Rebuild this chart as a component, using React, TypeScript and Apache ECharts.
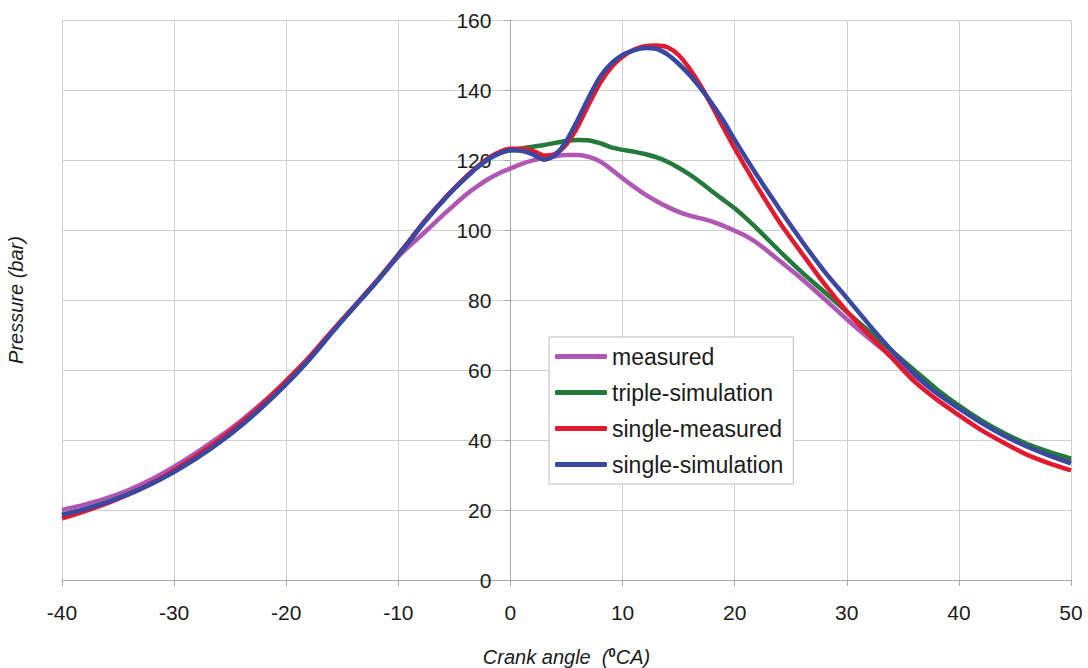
import React, { useEffect, useRef } from "react";
import * as echarts from "echarts";

const angles = [
  -40, -38, -36, -34, -32, -30, -28, -26, -24, -22, -20, -18, -16, -14, -12, -10,
  -9, -8, -7, -6, -5, -4, -3, -2, -1, 0, 1, 2, 3, 4, 5, 6, 7, 8, 9, 10, 11, 12, 13, 14, 15, 16, 17, 18, 19, 20, 21, 22,
  24, 26, 28, 30, 32, 34, 36, 38, 40, 42, 44, 46, 48, 50,
];

const measured = [
  20.0, 21.5, 23.4, 25.8, 28.8, 32.4, 36.4, 40.8, 45.6, 51.0, 57.0, 63.5, 70.8, 77.8, 85.0, 92.4,
  95.5, 98.3, 101.3, 104.3, 107.2, 110.0, 112.4, 114.5, 116.2, 117.6, 118.9, 119.9, 120.6, 121.1, 121.4, 121.4,
  120.9, 119.6, 117.3, 114.8, 112.4, 110.2, 108.3, 106.6, 105.2, 104.1, 103.3, 102.4, 101.2, 99.8, 98.3, 96.3,
  91.2, 86.0, 80.3, 74.5, 69.0, 63.8, 58.4, 53.5, 49.3, 45.3, 41.8, 38.7, 36.2, 34.0,
];

const tripleSimulation = [
  18.6, 20.2, 22.2, 24.6, 27.5, 30.9, 34.8, 39.2, 44.2, 49.8, 56.0, 62.8, 70.4, 77.8, 85.0, 92.8,
  96.8, 101.0, 104.8, 108.4, 111.8, 114.9, 117.8, 120.2, 121.9, 122.8, 123.3, 123.8, 124.3, 124.9, 125.4, 125.7,
  125.6, 124.8, 123.6, 122.9, 122.4, 121.7, 120.8, 119.5, 117.8, 115.8, 113.5, 111.0, 108.6, 106.2, 103.4, 100.4,
  94.0, 87.9, 82.3, 76.6, 71.0, 65.5, 60.0, 54.6, 49.8, 45.6, 42.0, 39.0, 36.7, 34.7,
];

const singleMeasured = [
  17.6, 19.6, 21.9, 24.6, 27.7, 31.4, 35.5, 40.0, 45.0, 50.6, 56.8, 63.4, 70.8, 78.0, 85.2, 93.0,
  97.0, 101.2, 105.0, 108.6, 112.0, 115.1, 118.0, 120.5, 122.3, 123.2, 123.2, 122.6, 121.3, 121.8, 124.5, 129.5,
  136.0, 142.0, 146.5, 149.5, 151.5, 152.5, 152.7, 152.2, 150.0, 146.0, 141.0, 135.3, 129.2, 123.3, 117.8, 112.4,
  102.2, 93.3, 84.6, 76.8, 70.0, 63.5, 56.8, 51.6, 47.1, 42.8, 39.2, 35.9, 33.4, 31.3,
];

const singleSimulation = [
  18.6, 20.2, 22.2, 24.6, 27.5, 30.9, 34.8, 39.2, 44.2, 49.8, 56.0, 62.8, 70.4, 77.8, 85.0, 92.8,
  96.8, 101.0, 104.8, 108.4, 111.8, 114.9, 117.8, 120.2, 121.9, 122.8, 122.6, 121.6, 120.1, 121.4, 125.5, 131.5,
  138.0, 143.8, 147.6, 150.0, 151.3, 152.0, 151.8, 150.2, 147.5, 144.2, 140.3, 136.0, 131.2, 125.8, 120.6, 115.6,
  106.0, 96.8, 88.2, 80.6, 72.9, 65.6, 59.0, 53.4, 49.0, 44.9, 41.3, 38.2, 35.6, 33.3,
];

const seriesNames = ["measured", "triple-simulation", "single-measured", "single-simulation"];
const seriesValues = [measured, tripleSimulation, singleMeasured, singleSimulation];
const seriesColors = ["#b056b4", "#237a3b", "#e21a30", "#3a48a2"];

const FONT = "'Liberation Sans', Arial, Helvetica, sans-serif";

const GRID_LEFT = 62;
const GRID_RIGHT = 17;
const CHART_W = 1088;

export default function App() {
  const ref = useRef<HTMLDivElement>(null);

  useEffect(() => {
    if (!ref.current) return;
    const chart = echarts.init(ref.current, null, { renderer: "svg" });
    // y axis sits at crank angle 0: shift it inward from the grid's left edge
    const plotW = CHART_W - GRID_LEFT - GRID_RIGHT;
    const yAxisShift = (plotW * (0 - -40)) / (50 - -40);
    chart.setOption({
      animation: false,
      backgroundColor: "#ffffff",
      textStyle: { fontFamily: FONT },
      grid: {
        left: GRID_LEFT,
        right: GRID_RIGHT,
        top: 20,
        bottom: 88,
        containLabel: false,
        outerBoundsMode: "none",
      },
      legend: {
        orient: "vertical",
        left: 549,
        top: 337,
        backgroundColor: "#ffffff",
        borderColor: "#bdbdbd",
        borderWidth: 1,
        padding: [8, 10, 8, 6],
        itemGap: 13,
        itemWidth: 52,
        itemHeight: 5,
        icon: "roundRect",
        textStyle: { fontSize: 23, color: "#1c1c1c", fontFamily: FONT },
        data: seriesNames,
      },
      xAxis: {
        type: "value",
        min: -40,
        max: 50,
        interval: 10,
        name: "Crank angle  ({sup|0}CA)",
        nameLocation: "middle",
        nameGap: 66,
        nameMoveOverlap: false,
        nameTextStyle: {
          fontSize: 20,
          fontStyle: "italic",
          color: "#1c1c1c",
          fontFamily: FONT,
          rich: {
            sup: {
              fontSize: 13,
              fontWeight: "bold",
              fontStyle: "normal",
              color: "#1c1c1c",
              fontFamily: FONT,
              padding: [0, 0, 9, 0],
            },
          },
        },
        axisLine: { show: true, onZero: false, lineStyle: { color: "#a8a8a8", width: 1 } },
        axisTick: { show: true, length: 6, lineStyle: { color: "#a8a8a8" } },
        axisLabel: { fontSize: 21, color: "#1c1c1c", margin: 22, fontFamily: FONT },
        splitLine: { show: true, lineStyle: { color: "#cfcfcf", width: 1 } },
      },
      yAxis: {
        type: "value",
        min: 0,
        max: 160,
        interval: 20,
        offset: -yAxisShift,
        name: "Pressure (bar)",
        nameLocation: "middle",
        nameGap: 484,
        nameMoveOverlap: false,
        nameTextStyle: { fontSize: 20, fontStyle: "italic", color: "#1c1c1c", fontFamily: FONT },
        axisLine: { show: true, onZero: false, lineStyle: { color: "#a8a8a8", width: 1 } },
        axisTick: { show: true, length: 6, lineStyle: { color: "#a8a8a8" } },
        axisLabel: { fontSize: 21, color: "#1c1c1c", margin: 19, fontFamily: FONT },
        splitLine: { show: true, lineStyle: { color: "#cfcfcf", width: 1 } },
      },
      series: seriesNames.map((name, k) => ({
        name,
        type: "line",
        data: angles.map((a, i) => [a, seriesValues[k][i]]),
        showSymbol: false,
        symbol: "none",
        smooth: 0.25,
        lineStyle: { color: seriesColors[k], width: 4.5 },
        itemStyle: { color: seriesColors[k] },
        z: 2 + k,
      })),
    });
    return () => chart.dispose();
  }, []);

  return (
    <div
      ref={ref}
      style={{ position: "fixed", left: 0, top: 0, width: CHART_W, height: 668, background: "#fff" }}
    />
  );
}
